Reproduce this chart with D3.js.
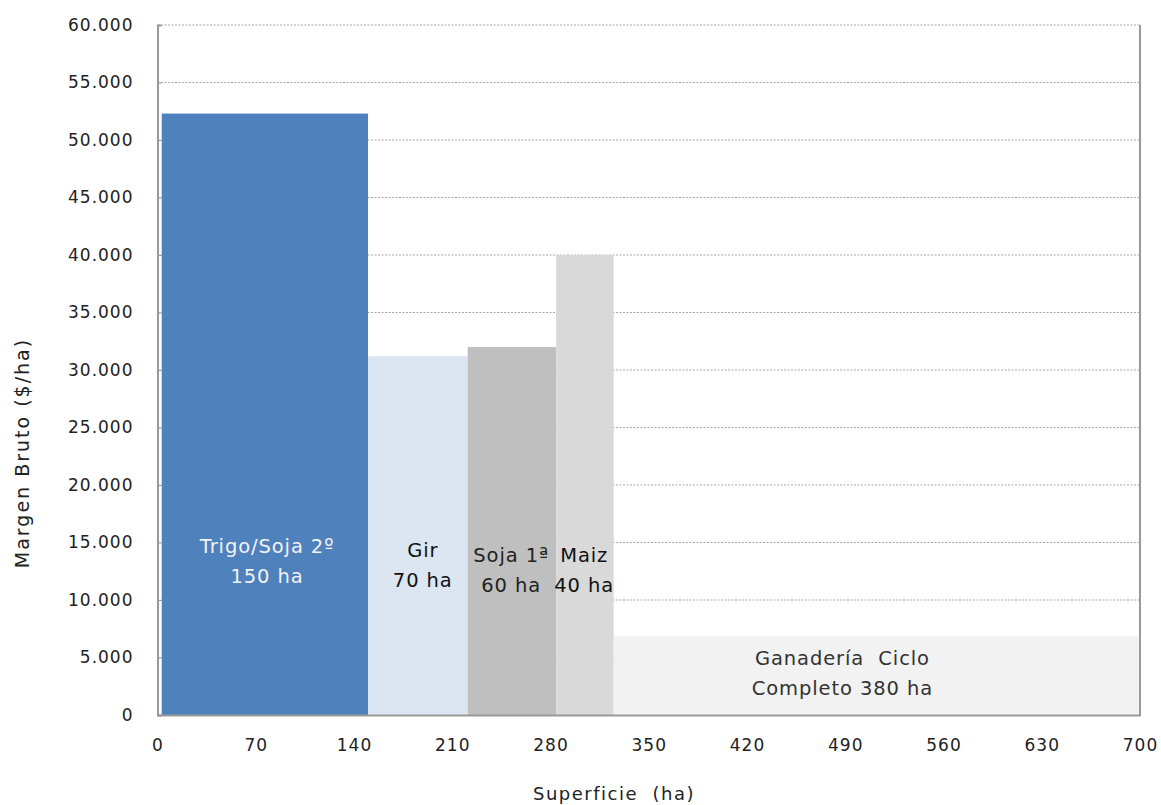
<!DOCTYPE html>
<html>
<head>
<meta charset="utf-8">
<script src="https://cdn.jsdelivr.net/npm/d3@7"></script>
<style>
  body { margin: 0; background: #fff; }
  svg text { font-family: "DejaVu Sans", Lato, sans-serif; }
</style>
</head>
<body>
<svg id="chart" width="1161" height="805"></svg>
<script>
// datos
const cultivos = ["Trigo/Soja 2º", "Gir", "Soja 1ª", "Maiz", "Ganadería Ciclo Completo"];
const haInicio = [3, 150, 221, 284, 325];
const haFin = [150, 221, 284, 325, 700];
const margenBruto = [52300, 31200, 32000, 40000, 6850];
const etiquetas = [
    ["Trigo/Soja 2º", "150 ha"],
    ["Gir", "70 ha"],
    ["Soja 1ª", "60 ha"],
    ["Maiz", "40 ha"],
    ["Ganadería  Ciclo", "Completo 380 ha"]
];
// posicion de etiquetas (ha, $/ha)
const etiquetaX = [78, 189, 252, 304, 488];
const etiquetaY = [14050, 13700, 13300, 13300, 4350];
const xTicks = [0, 70, 140, 210, 280, 350, 420, 490, 560, 630, 700];
const yTicks = [0, 5000, 10000, 15000, 20000, 25000, 30000, 35000, 40000, 45000, 50000, 55000, 60000];

const colores = ["#4f81bd", "#dce6f2", "#bfbfbf", "#d9d9d9", "#f2f2f2"];
const colorTexto = ["#f2f2f2", "#111", "#222", "#111", "#333"];

const margin = { top: 25, right: 21, bottom: 90, left: 157.5 };
const width = 1161, height = 805;

const svg = d3.select("#chart");

const xScale = d3.scaleLinear()
    .domain([0, 700])
    .range([margin.left, width - margin.right]);
const yScale = d3.scaleLinear()
    .domain([0, 60000])
    .range([height - margin.bottom, margin.top]);

const fmt = d => d3.format(",")(d).replace(/,/g, ".");

// lineas de grilla punteadas
svg.append("g")
    .selectAll("line")
    .data(yTicks.slice(1))
    .join("line")
    .attr("x1", xScale(0))
    .attr("x2", xScale(700))
    .attr("y1", d => yScale(d))
    .attr("y2", d => yScale(d))
    .attr("stroke", "#a6a6a6")
    .attr("stroke-width", 1)
    .attr("stroke-dasharray", "2,1.5");

// barras
const data = cultivos.map((c, i) => ({
    nombre: c, x0: haInicio[i], x1: haFin[i], valor: margenBruto[i], i: i
}));

svg.append("g")
    .selectAll("rect")
    .data(data)
    .join("rect")
    .attr("x", d => xScale(d.x0))
    .attr("width", d => xScale(d.x1) - xScale(d.x0))
    .attr("y", d => yScale(d.valor))
    .attr("height", d => yScale(0) - yScale(d.valor))
    .attr("fill", d => colores[d.i]);

// etiquetas de barras
const gLab = svg.append("g");
data.forEach(d => {
    const t = gLab.append("text")
        .attr("text-anchor", "middle")
        .attr("font-size", "19.5px")
        .attr("letter-spacing", "0.9px")
        .attr("fill", colorTexto[d.i]);
    etiquetas[d.i].forEach((linea, k) => {
        t.append("tspan")
            .attr("x", xScale(etiquetaX[d.i]))
            .attr("y", yScale(etiquetaY[d.i]) + k * 30)
            .attr("xml:space", "preserve")
            .style("white-space", "pre")
            .text(linea);
    });
});

// ejes
const yAxis = d3.axisLeft(yScale).tickValues(yTicks).tickFormat(fmt).tickSize(-4).tickPadding(24);
const gy = svg.append("g")
    .attr("transform", `translate(${margin.left},0)`)
    .call(yAxis);
gy.selectAll("text").attr("font-size", "17px").attr("fill", "#222").attr("letter-spacing", "1px");
gy.selectAll("line").attr("stroke", "#999");
gy.select(".domain").attr("stroke", "#999").attr("stroke-width", 2);

const xAxis = d3.axisBottom(xScale).tickValues(xTicks).tickFormat(d3.format("d")).tickSize(0).tickPadding(24);
const gx = svg.append("g")
    .attr("transform", `translate(0,${height - margin.bottom})`)
    .call(xAxis);
gx.selectAll("text").attr("font-size", "17px").attr("fill", "#222").attr("letter-spacing", "1px");
gx.select(".domain").attr("stroke", "#999").attr("stroke-width", 2);

// borde derecho
svg.append("line")
    .attr("x1", xScale(700)).attr("x2", xScale(700))
    .attr("y1", yScale(60000)).attr("y2", yScale(0) + 1)
    .attr("stroke", "#999").attr("stroke-width", 2);

// titulos de ejes
svg.append("text")
    .attr("x", 614)
    .attr("y", 800)
    .attr("text-anchor", "middle")
    .attr("font-size", "18px")
    .attr("fill", "#222")
    .attr("letter-spacing", "1.5px")
    .attr("xml:space", "preserve")
    .style("white-space", "pre")
    .text("Superficie  (ha)");

svg.append("text")
    .attr("transform", "translate(29,453) rotate(-90)")
    .attr("text-anchor", "middle")
    .attr("font-size", "19px")
    .attr("fill", "#222")
    .attr("letter-spacing", "2px")
    .text("Margen Bruto ($/ha)");
</script>
</body>
</html>
